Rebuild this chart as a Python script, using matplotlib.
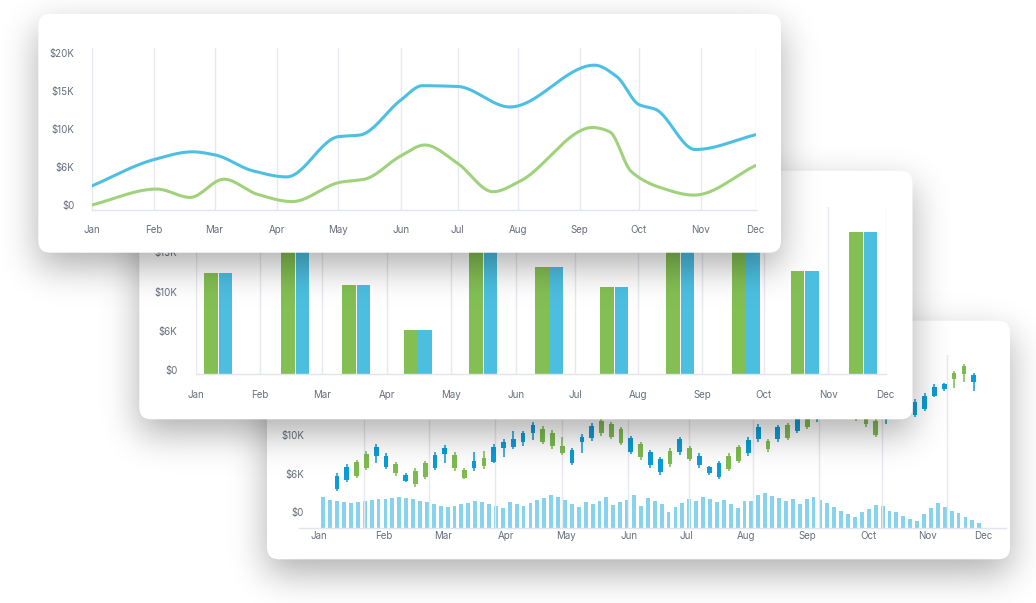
import math
import numpy as np
import matplotlib
matplotlib.use("Agg")
import matplotlib.pyplot as plt
from matplotlib.patches import FancyBboxPatch
from matplotlib.transforms import ScaledTranslation

plt.rcParams['font.family'] = ['Inter', 'DejaVu Sans']

# ------------------------------------------------------------------ data
months = ["Jan", "Feb", "Mar", "Apr", "May", "Jun", "Jul", "Aug", "Sep", "Oct", "Nov", "Dec"]
y_ticks = [0, 5, 10, 15, 20]
y_tick_labels = ["$0", "$6K", "$10K", "$15K", "$20K"]

# chart 1 : two smooth lines (x in month units, values in $K)
line_month_pos = [0, 1.037, 2.035, 3.074, 4.086, 5.122, 6.061, 7.057, 8.086, 9.065, 10.094, 11]
blue_x = [0, 1.04, 1.67, 2.04, 2.67, 3.23, 4.09, 4.44, 5.12, 5.48, 6.06, 6.93, 8.33, 8.70, 9.07, 9.34, 10.0, 11.0]
blue_y = [2.5, 6.0, 7.0, 6.6, 4.5, 3.7, 9.0, 9.2, 13.8, 15.7, 15.6, 12.9, 18.4, 16.9, 13.2, 12.6, 7.3, 9.25]
green_x = [0, 1.08, 1.63, 2.19, 2.75, 3.32, 4.12, 4.52, 5.12, 5.52, 6.06, 6.65, 7.09, 8.30, 8.58, 8.94, 9.42, 9.98, 11.0]
green_y = [0, 2.1, 1.0, 3.4, 1.4, 0.45, 3.0, 3.4, 6.45, 7.9, 5.5, 1.75, 3.1, 10.2, 9.65, 4.4, 2.3, 1.3, 5.2]

# chart 2 : paired bars (x in month units)
bar_month_pos = [0, 1.028, 2.023, 3.053, 4.073, 5.116, 6.055, 7.05, 8.078, 9.058, 10.085, 11]
bar_x = [0.365, 1.589, 2.566, 3.545, 4.589, 5.633, 6.675, 7.727, 8.776, 9.708, 10.644]
bar_values = [12.9, 16.8, 11.35, 5.6, 17.5, 13.7, 11.1, 16.4, 17.0, 13.15, 18.1]

# chart 3 : candlesticks + volume
candle_month_pos = [-1.81, 4.73, 10.79, 17.20, 23.42, 29.81, 35.67, 41.80, 47.98, 54.21, 60.33, 66.0]
candle_grid_pos = [-3.95, 2.76, 9.36, 16.16, 22.94, 29.68, 35.91, 42.44, 49.18, 55.67, 62.31, 68.31]
c_open = [2.98, 4.19, 6.49, 7.61, 7.35, 5.92, 6.27, 4.10, 5.36, 6.36, 5.79, 7.61, 7.44, 5.53, 5.71, 7.09,
          6.53, 8.35, 8.52, 9.09, 10.26, 10.86, 10.34, 8.65, 6.44, 9.17, 9.61, 11.90, 11.47, 10.78, 7.87,
          8.87, 6.10, 5.19, 8.00, 7.83, 8.31, 6.10, 5.14, 4.54, 7.31, 8.44, 7.66, 9.48, 9.30, 9.48, 11.34,
          10.60, 13.00, 12.30, 13.50, 14.60, 13.20, 13.60, 12.60, 11.81, 12.40, 13.20, 13.60, 12.64, 13.42,
          15.10, 15.97, 18.05, 19.00, 16.92]
c_high = [5.14, 6.27, 6.79, 7.96, 8.91, 7.66, 6.57, 5.06, 5.71, 6.66, 7.83, 8.74, 7.79, 5.79, 7.79, 8.00,
          8.91, 9.52, 10.56, 10.60, 11.77, 11.21, 10.65, 9.74, 8.31, 10.17, 11.55, 12.30, 11.77, 11.04, 9.91,
          9.17, 8.09, 7.22, 8.31, 9.82, 8.61, 7.66, 6.01, 6.62, 7.66, 8.70, 9.74, 11.42, 9.56, 11.34, 11.64,
          12.80, 13.40, 14.30, 15.20, 15.00, 14.60, 14.00, 12.90, 12.20, 13.80, 14.70, 15.00, 14.67, 15.45,
          16.62, 16.84, 18.35, 19.26, 18.13]
c_low = [2.72, 3.89, 4.41, 5.49, 6.44, 5.58, 4.71, 3.93, 3.32, 4.28, 5.45, 6.36, 5.40, 4.28, 5.40, 5.66,
         6.36, 7.14, 8.26, 8.65, 9.39, 8.87, 8.26, 7.48, 6.10, 7.74, 9.26, 9.91, 9.48, 8.70, 7.57,
         6.79, 5.75, 4.84, 5.92, 7.48, 6.62, 5.75, 4.88, 4.28, 5.32, 6.44, 7.31, 9.13, 7.83, 9.17, 9.39,
         10.26, 10.78, 11.77, 13.10, 13.00, 12.80, 11.90, 11.12, 9.74, 11.47, 12.80, 13.20, 12.33, 13.11,
         14.93, 15.75, 16.10, 16.88, 15.80]
c_close = [4.71, 5.88, 4.75, 5.79, 8.52, 7.35, 5.06, 4.88, 3.67, 4.62, 7.48, 8.39, 5.71, 4.49, 6.66, 6.01,
           8.52, 9.17, 9.52, 10.26, 11.40, 9.17, 8.65, 7.74, 8.09, 9.82, 11.21, 10.26, 9.82, 9.04, 9.61,
           7.14, 7.79, 6.87, 6.27, 9.48, 6.87, 7.31, 5.88, 6.36, 5.58, 6.70, 9.39, 11.12, 8.26, 11.10, 9.69,
           12.30, 11.03, 13.90, 14.80, 13.40, 14.20, 12.60, 11.42, 10.04, 13.40, 14.30, 14.60, 14.37, 15.10,
           16.32, 16.66, 17.27, 17.92, 17.87]
volume = [31.6, 28.6, 27.3, 26.3, 25.0, 26.3, 27.3, 28.0, 29.0, 29.6, 30.3, 31.6, 30.3, 29.3, 27.3, 26.0,
          24.3, 22.3, 21.0, 22.3, 24.0, 25.3, 27.3, 26.3, 24.3, 22.3, 20.6, 26.3, 24.3, 22.3, 25.0, 28.3,
          30.3, 33.0, 31.0, 28.3, 24.3, 21.6, 26.3, 24.3, 27.0, 31.0, 23.6, 26.3, 28.3, 33.0, 22.6, 30.3,
          27.3, 24.6, 16.0, 21.0, 25.3, 29.0, 27.0, 31.3, 29.3, 26.3, 28.6, 24.0, 20.3, 27.0, 27.6, 33.0,
          35.0, 32.6, 30.0, 27.3, 29.0, 24.3, 29.6, 31.3, 28.0, 25.0, 21.0, 17.6, 14.6, 11.6, 16.3, 19.3,
          23.6, 22.0, 17.6, 16.0, 12.3, 9.3, 7.0, 14.0, 20.0, 25.0, 21.3, 17.6, 15.3, 11.0, 8.3, 5.3]

# ------------------------------------------------------------------ style
W, H = 1036, 603
TXT = "#666e7c"
GRID = "#e6e9ef"
AXL = "#e1e5ec"
LBLUE, LGREEN = "#4dbfe3", "#a0d27c"
BGREEN, BBLUE = "#84bf54", "#4cbfe1"
CBLUE, CGREEN = "#0c9cd8", "#7dbb4f"
VOLC = "#87d3ef"
FS = 7

fig = plt.figure(figsize=(W / 100, H / 100), dpi=100)
fig.patch.set_facecolor("white")


def frac(l, t, r, b):
    return [l / W, 1 - b / H, (r - l) / W, (b - t) / H]


_erf = np.vectorize(math.erf)


def phi(z):
    return 0.5 * (1 + _erf(z / math.sqrt(2)))


def layer(card, z, dy=14, sigma=18, strength=0.32):
    x0, y0, x1, y1 = card
    ax = fig.add_axes([0, 0, 1, 1], zorder=z)
    xs = np.arange(W) + 0.5
    ys = np.arange(H) + 0.5
    sx = phi((xs - x0) / sigma) - phi((xs - x1) / sigma)
    sy = phi((ys - (y0 + dy)) / sigma) - phi((ys - (y1 + dy)) / sigma)
    img = np.zeros((H, W, 4))
    img[..., 3] = strength * np.outer(sy, sx)
    ax.imshow(img, extent=(0, W, H, 0), interpolation="bilinear", aspect="auto")
    ax.add_patch(FancyBboxPatch((x0, y0), x1 - x0, y1 - y0,
                                boxstyle="round,pad=0,rounding_size=12",
                                fc="white", ec="none"))
    ax.set_xlim(0, W)
    ax.set_ylim(H, 0)
    ax.axis("off")
    return ax


def style_axes(ax, xpad, ypad, yshift=0):
    ax.patch.set_visible(False)
    for s in ["top", "right", "left"]:
        ax.spines[s].set_visible(False)
    ax.spines["bottom"].set_color(AXL)
    ax.spines["bottom"].set_linewidth(1.0)
    ax.tick_params(axis="both", length=0, labelsize=FS, colors=TXT)
    ax.tick_params(axis="x", pad=xpad)
    ax.tick_params(axis="y", pad=ypad)
    ax.set_yticks(y_ticks, y_tick_labels)
    if yshift:
        off = ScaledTranslation(0, yshift / 100, fig.dpi_scale_trans)
        for lab in ax.get_yticklabels():
            lab.set_transform(lab.get_transform() + off)


def pchip(x, y, xn):
    x = np.asarray(x, float)
    y = np.asarray(y, float)
    h = np.diff(x)
    delta = np.diff(y) / h
    n = len(x)
    d = np.zeros(n)
    for k in range(1, n - 1):
        if delta[k - 1] * delta[k] > 0:
            w1 = 2 * h[k] + h[k - 1]
            w2 = h[k] + 2 * h[k - 1]
            d[k] = (w1 + w2) / (w1 / delta[k - 1] + w2 / delta[k])
    d[0] = delta[0]
    d[-1] = delta[-1]
    idx = np.clip(np.searchsorted(x, xn) - 1, 0, n - 2)
    t = (xn - x[idx]) / h[idx]
    h00 = 2 * t**3 - 3 * t**2 + 1
    h10 = t**3 - 2 * t**2 + t
    h01 = -2 * t**3 + 3 * t**2
    h11 = t**3 - t**2
    return h00 * y[idx] + h10 * h[idx] * d[idx] + h01 * y[idx + 1] + h11 * h[idx] * d[idx + 1]


# ------------------------------------------------------------------ cards
card3 = (267, 320.7, 1010, 559.3)
card2 = (139.3, 170.7, 912.5, 419.3)
card1 = (38.3, 14, 781, 252.7)

# card 3 : candlesticks
layer(card3, 1)
pos3 = frac(298.5, 355, 1006, 528.3)
axv = fig.add_axes(pos3, zorder=2)
axv.axis("off")
vx = np.arange(len(volume))
axv.bar(vx, volume, width=0.56, color=VOLC, linewidth=0)
axv.set_xlim(-3.59, 98.87)
axv.set_ylim(0, 173.3)

ax3 = fig.add_axes(pos3, zorder=2.5)
style_axes(ax3, xpad=2, ypad=-4)
cx = np.arange(len(c_open))
o = np.array(c_open)
c = np.array(c_close)
cols = [CBLUE if cc >= oo else CGREEN for oo, cc in zip(o, c)]
ax3.vlines(cx, c_low, c_high, colors=cols, linewidth=1.1)
ax3.bar(cx, np.abs(c - o), bottom=np.minimum(o, c), width=0.48, color=cols, linewidth=0)
ax3.set_xticks(candle_month_pos, months)
ax3.set_xticks(candle_grid_pos, minor=True)
ax3.tick_params(axis="x", which="minor", length=0)
ax3.grid(axis="x", which="minor", color=GRID, linewidth=1.0)
ax3.set_axisbelow(True)
ax3.set_xlim(-3.93, 68.3)
ax3.set_ylim(-2.08, 20.43)

# card 2 : bars
layer(card2, 3)
ax2 = fig.add_axes(frac(195.5, 206.7, 885.6, 374.3), zorder=4)
style_axes(ax2, xpad=11.5, ypad=13, yshift=4)
bx = np.array(bar_x)
ax2.bar(bx - 0.114, bar_values, width=0.218, color=BGREEN, linewidth=0)
ax2.bar(bx + 0.114, bar_values, width=0.218, color=BBLUE, linewidth=0)
ax2.set_xticks(bar_month_pos, months)
ax2.grid(axis="x", color=GRID, linewidth=1.0)
ax2.set_axisbelow(True)
ax2.set_xlim(0, 11)
ax2.set_ylim(0, 21.3)

# card 1 : lines
layer(card1, 5)
ax1 = fig.add_axes(frac(91.7, 48.3, 755.6, 209.5), zorder=6)
style_axes(ax1, xpad=11, ypad=12.5)
xs_fine = np.linspace(0, 11, 600)
ax1.plot(xs_fine, pchip(green_x, green_y, xs_fine), color=LGREEN, linewidth=2.2,
         solid_capstyle="round")
ax1.plot(xs_fine, pchip(blue_x, blue_y, xs_fine), color=LBLUE, linewidth=2.2,
         solid_capstyle="round")
ax1.set_xticks(line_month_pos, months)
ax1.grid(axis="x", color=GRID, linewidth=1.0)
ax1.set_axisbelow(True)
ax1.set_xlim(0, 11)
ax1.set_ylim(-0.59, 20.62)

fig.savefig("out.png", dpi=100, facecolor="white")
